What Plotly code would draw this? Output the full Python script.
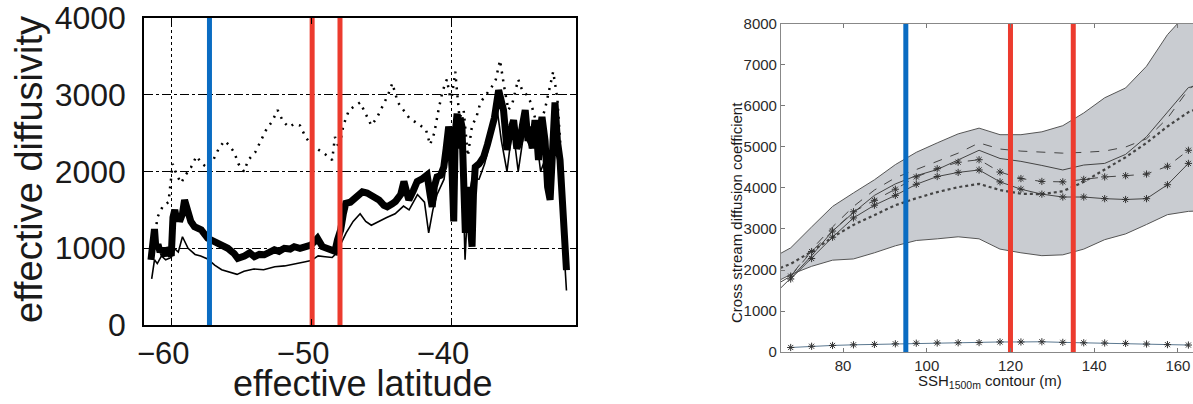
import plotly.graph_objects as go

# ---------------- Left panel data ----------------
thick_lat = [-61.45, -61.35, -61.2, -61.1, -60.95, -60.8, -60.7, -60.5, -60.36, -60.15, -60.0, -59.88,
             -59.75, -59.64, -59.5, -59.41, -59.2, -59.05, -58.9, -58.81, -58.6, -58.34, -57.86, -57.39,
             -56.91, -56.44, -55.96, -55.5, -55.25, -54.77, -54.4, -54.06, -53.7, -53.35, -53.0, -52.63,
             -52.3, -51.92, -51.5, -51.21, -50.8, -50.5, -50.02, -49.8, -49.55, -49.19, -48.9, -48.6,
             -48.3, -48.12, -47.89, -47.7, -47.53, -47.2, -46.93, -46.6, -46.34, -46.0, -45.75, -45.4,
             -45.15, -44.8, -44.56, -44.2, -43.97, -43.6, -43.37, -43.2, -43.02, -42.7, -42.42, -42.1,
             -41.71, -41.5, -41.35, -41.2, -41.0, -40.75, -40.52, -40.35, -40.17, -40.0, -39.9, -39.81,
             -39.7, -39.57, -39.45, -39.35, -39.22, -39.1, -38.98, -38.86, -38.74, -38.62, -38.5, -38.4,
             -38.27, -38.0, -37.67, -37.4, -37.2, -36.9, -36.6, -36.45, -36.25, -36.1, -36.01, -35.8,
             -35.53, -35.3, -35.06, -34.9, -34.7, -34.5, -34.35, -34.2, -34.0, -33.87, -33.75, -33.64,
             -33.5, -33.28, -33.1, -32.92, -32.8, -32.65, -32.57, -32.4, -32.21, -32.1, -31.97, -31.85, -31.75]
thick_val = [850, 1000, 1250, 1000, 1050, 950, 1000, 900, 1000, 950, 900, 1400,
             1500, 1400, 1450, 1350, 1450, 1630, 1550, 1450, 1350, 1280, 1240, 1130,
             1085, 1020, 1000, 930, 870, 900, 940, 890, 920, 915, 960, 980,
             960, 1000, 990, 1020, 1000, 1020, 1040, 1080, 1130, 1020, 1000, 980,
             960, 1110, 1240, 1450, 1585, 1600, 1650, 1700, 1735, 1720, 1690, 1650,
             1630, 1560, 1540, 1580, 1610, 1700, 1870, 1750, 1630, 1750, 1870, 1900,
             1955, 1700, 1540, 1800, 1930, 1950, 2060, 2300, 2585, 2400, 1800, 1350,
             2500, 2755, 2300, 2700, 2585, 1500, 1200, 1600, 1800, 1300, 1020, 1700,
             2060, 2100, 2190, 2350, 2500, 2700, 3060, 2900, 2800, 2500, 2280, 2500,
             2670, 2300, 2410, 2600, 2800, 2400, 2585, 2300, 2670, 2450, 2150, 2500,
             2710, 2400, 1800, 1630, 2300, 2800, 2900, 2400, 2150, 1800, 1195, 900, 715]

thin_lat = [-61.4, -61.3, -61.2, -61.0, -60.7, -60.4, -60.0, -59.8, -59.5, -59.2, -58.8, -58.3,
            -57.9, -57.4, -56.9, -56.4, -55.9, -55.3, -54.8, -54.1, -53.4, -52.6, -51.9, -51.2,
            -50.5, -50.0, -49.5, -49.0, -48.5, -48.1, -47.9, -47.5, -47.0, -46.5, -46.1, -45.7,
            -45.2, -44.6, -44.0, -43.4, -43.0, -42.4, -41.9, -41.6, -41.3, -41.0, -40.5, -40.2,
            -39.8, -39.6, -39.2, -39.0, -38.8, -38.5, -38.0, -37.6, -37.2, -36.7, -36.4, -36.0,
            -35.6, -35.2, -34.8, -34.3, -33.9, -33.6, -33.2, -32.9, -32.5, -32.2, -31.9, -31.75]
thin_val = [600, 750, 850, 800, 900, 850, 880, 1000, 950, 1150, 1000, 920,
            900, 860, 780, 720, 690, 660, 700, 730, 720, 760, 770, 800,
            820, 840, 900, 890, 880, 950, 1050, 1200, 1350, 1450, 1350, 1300,
            1350, 1400, 1450, 1550, 1500, 1700, 1600, 1200, 1500, 1700, 1900, 2300,
            1400, 2500, 2200, 850, 1600, 1900, 1900, 2100, 2400, 2800, 2400, 2000,
            2600, 2000, 2500, 2300, 2450, 2000, 2200, 1700, 2700, 1800, 1000, 450]

dot_lat = [-61.3, -61.0, -60.6, -60.2, -59.9, -59.6, -59.3, -59.0, -58.6, -58.2, -57.8, -57.4,
           -57.0, -56.6, -56.2, -55.9, -55.5, -55.2, -54.8, -54.5, -54.0, -53.6, -53.2, -52.8,
           -52.4, -52.0, -51.6, -51.2, -50.8, -50.4, -50.0, -49.6, -49.2, -48.8, -48.5, -48.3,
           -48.0, -47.7, -47.3, -46.9, -46.5, -46.1, -45.7, -45.3, -44.9, -44.5, -44.2, -43.8,
           -43.4, -43.0, -42.6, -42.2, -41.8, -41.5, -41.2, -40.9, -40.6, -40.3, -40.0, -39.7,
           -39.4, -39.1, -38.8, -38.5, -38.2, -37.9, -37.5, -37.1, -36.8, -36.5, -36.2, -35.9,
           -35.6, -35.2, -34.9, -34.6, -34.3, -34.0, -33.7, -33.3, -33.0, -32.7, -32.4, -32.1]
dot_val = [900, 1400, 1550, 1600, 2100, 1950, 1850, 1950, 2050, 2200, 2100, 2050,
           2150, 2300, 2400, 2350, 2250, 2100, 2000, 2150, 2250, 2400, 2550, 2650,
           2800, 2650, 2580, 2620, 2600, 2450, 2350, 2300, 2250, 2200, 2150, 2450,
           2300, 2600, 2800, 2850, 2900, 2750, 2600, 2700, 2850, 3000, 3150, 2900,
           2800, 2700, 2650, 2600, 2550, 2350, 2500, 2800, 3050, 3200, 2900, 3300,
           2700, 2800, 2200, 2600, 2700, 2900, 3000, 3100, 3200, 3450, 3100, 2800,
           2900, 3200, 3050, 3000, 2900, 2700, 2600, 2800, 3050, 3300, 2950, 2100]

left_blue = [-57.27]
left_red = [-49.93, -47.94]
left_xticks = [-60, -50, -40]
left_xticktext = ["\u221260", "\u221250", "\u221240"]
left_yticks = [0, 1000, 2000, 3000, 4000]

# ---------------- Right panel data ----------------
band_x = [65, 67.5, 72.5, 77.5, 82.5, 87.5, 92.5, 97.5, 102.5, 107.5, 112.5, 117.5,
          122.5, 127.5, 132.5, 137.5, 142.5, 147.5, 152.5, 157.5, 162.5, 165]
band_hi = [2400, 2540, 3050, 3550, 3880, 4200, 4570, 4870, 5100, 5320, 5460, 5300,
           5300, 5370, 5520, 5830, 6200, 6440, 6970, 7740, 8300, 8600]
band_lo = [1760, 1890, 2090, 2240, 2270, 2420, 2590, 2720, 2760, 2810, 2760, 2510,
           2420, 2350, 2370, 2510, 2740, 2880, 3110, 3350, 3430, 3440]
solid_plain = [1550, 1800, 2350, 2950, 3400, 3820, 4100, 4300, 4450, 4680, 4920, 4720,
               4650, 4550, 4440, 4560, 4600, 4820, 5250, 5850, 6450, 6500]
dash_plain = [1700, 1850, 2500, 3050, 3550, 3950, 4250, 4450, 4650, 4850, 5100, 4950,
              4900, 4880, 4850, 4870, 4900, 5000, 5200, 5700, 6400, 6600]
dot_plain = [2050, 2150, 2450, 2800, 3100, 3350, 3580, 3750, 3900, 4020, 4100, 3950,
             3860, 3850, 3920, 4150, 4450, 4750, 5100, 5500, 5850, 5950]

star_x = [67.5, 72.5, 77.5, 82.5, 87.5, 92.5, 97.5, 102.5, 107.5, 112.5, 117.5,
          122.5, 127.5, 132.5, 137.5, 142.5, 147.5, 152.5, 157.5, 162.5]
dash_star = [1850, 2450, 2950, 3420, 3700, 3970, 4270, 4470, 4630, 4690, 4390,
             4230, 4160, 4150, 4210, 4270, 4300, 4340, 4530, 4920]
solid_star = [1780, 2280, 2800, 3270, 3580, 3820, 4090, 4280, 4380, 4440, 4150,
              3970, 3850, 3780, 3780, 3740, 3720, 3740, 4080, 4600]
low_star = [110, 140, 160, 175, 185, 200, 215, 220, 225, 230, 245,
            245, 250, 235, 225, 220, 210, 195, 180, 170]

right_blue = [95]
right_red = [120, 135]
right_xticks = [80, 100, 120, 140, 160]
right_yticks = [0, 1000, 2000, 3000, 4000, 5000, 6000, 7000, 8000]

BLUE = "#0a6cc2"
RED = "#ec3b2e"
FONT = "Arial, Liberation Sans, sans-serif"
STAR = dict(symbol="asterisk-open", size=6, color="#333", line=dict(color="#333", width=1))

fig = go.Figure()

# ---- left traces ----
fig.add_trace(go.Scatter(x=dot_lat, y=dot_val, mode="lines",
                         line=dict(color="black", width=2.5, dash="2px,6px"), xaxis="x", yaxis="y"))
fig.add_trace(go.Scatter(x=thin_lat, y=thin_val, mode="lines",
                         line=dict(color="black", width=1.6), xaxis="x", yaxis="y"))
fig.add_trace(go.Scatter(x=thick_lat, y=thick_val, mode="lines",
                         line=dict(color="black", width=7), xaxis="x", yaxis="y"))
for v in left_blue:
    fig.add_trace(go.Scatter(x=[v, v], y=[0, 4000], mode="lines",
                             line=dict(color=BLUE, width=5), xaxis="x", yaxis="y"))
for v in left_red:
    fig.add_trace(go.Scatter(x=[v, v], y=[0, 4000], mode="lines",
                             line=dict(color=RED, width=5), xaxis="x", yaxis="y"))

# ---- right traces ----
fig.add_trace(go.Scatter(x=band_x, y=band_lo, mode="lines",
                         line=dict(color="#555", width=1), xaxis="x2", yaxis="y2"))
fig.add_trace(go.Scatter(x=band_x, y=band_hi, mode="lines", fill="tonexty",
                         fillcolor="#c9ccd1", line=dict(color="#555", width=1),
                         xaxis="x2", yaxis="y2"))
fig.add_trace(go.Scatter(x=band_x, y=dot_plain, mode="lines",
                         line=dict(color="#444", width=2.2, dash="dot"), xaxis="x2", yaxis="y2"))
fig.add_trace(go.Scatter(x=band_x, y=dash_plain, mode="lines",
                         line=dict(color="#444", width=1, dash="dash"), xaxis="x2", yaxis="y2"))
fig.add_trace(go.Scatter(x=band_x, y=solid_plain, mode="lines",
                         line=dict(color="#444", width=1), xaxis="x2", yaxis="y2"))
fig.add_trace(go.Scatter(x=star_x, y=dash_star, mode="lines+markers",
                         line=dict(color="#444", width=1, dash="dash"), marker=STAR,
                         xaxis="x2", yaxis="y2"))
fig.add_trace(go.Scatter(x=star_x, y=solid_star, mode="lines+markers",
                         line=dict(color="#444", width=1), marker=STAR,
                         xaxis="x2", yaxis="y2"))
fig.add_trace(go.Scatter(x=star_x, y=low_star, mode="lines+markers",
                         line=dict(color="#5b7890", width=1), marker=STAR,
                         xaxis="x2", yaxis="y2"))
for v in right_blue:
    fig.add_trace(go.Scatter(x=[v, v], y=[0, 8000], mode="lines",
                             line=dict(color=BLUE, width=5), xaxis="x2", yaxis="y2"))
for v in right_red:
    fig.add_trace(go.Scatter(x=[v, v], y=[0, 8000], mode="lines",
                             line=dict(color=RED, width=5), xaxis="x2", yaxis="y2"))

fig.update_layout(
    width=1193, height=404,
    margin=dict(l=0, r=0, t=0, b=0, autoexpand=False),
    paper_bgcolor="white", plot_bgcolor="white",
    showlegend=False,
    font=dict(family=FONT, color="#1a1a1a"),
    xaxis=dict(domain=[0.1207, 0.4828], range=[-61.95, -31.07], anchor="y", automargin=False,
               tickvals=left_xticks, ticktext=left_xticktext, ticklabeloverflow="allow",
               ticklabelshift=-8,
               ticks="inside", ticklen=6, tickcolor="black",
               showline=True, linecolor="black", linewidth=1.5, mirror="ticks",
               showgrid=True, gridcolor="black", griddash="dot", gridwidth=1.2,
               zeroline=False, tickfont=dict(size=31, family=FONT, color="#1a1a1a")),
    yaxis=dict(domain=[0.1955, 0.9554], range=[0, 4000], anchor="x", automargin=False,
               tickvals=left_yticks, ticklabeloverflow="allow", ticklabelstandoff=10,
               ticks="inside", ticklen=6, tickcolor="black",
               showline=True, linecolor="black", linewidth=1.5, mirror="ticks",
               showgrid=True, gridcolor="black", griddash="dashdot", gridwidth=1.2,
               zeroline=False, tickfont=dict(size=32, family=FONT, color="#1a1a1a")),
    xaxis2=dict(domain=[0.6547, 1.0], range=[65.2, 163.6], anchor="y2", automargin=False,
                tickvals=right_xticks, ticks="inside", ticklen=4, tickcolor="#777",
                ticklabeloverflow="allow",
                showline=True, linecolor="#888", linewidth=1.2, mirror="ticks",
                showgrid=False, zeroline=False,
                tickfont=dict(size=15, family=FONT, color="#2a2a2a")),
    yaxis2=dict(domain=[0.1287, 0.9406], range=[0, 8000], anchor="x2", automargin=False,
                tickvals=right_yticks, ticks="inside", ticklen=4, tickcolor="#777",
                ticklabeloverflow="allow",
                showline=True, linecolor="#888", linewidth=1.2,
                showgrid=False, zeroline=False,
                tickfont=dict(size=15, family=FONT, color="#2a2a2a")),
    annotations=[
        dict(text="effective diffusivity", xref="paper", yref="paper",
             x=29 / 1193, y=(404 - 170) / 404, textangle=-90, showarrow=False,
             font=dict(size=38, family=FONT, color="#1a1a1a"), xanchor="center", yanchor="middle"),
        dict(text="effective latitude", xref="paper", yref="paper",
             x=363 / 1193, y=(404 - 383) / 404, showarrow=False,
             font=dict(size=36, family=FONT, color="#1a1a1a"), xanchor="center", yanchor="middle"),
        dict(text="Cross stream diffusion coefficient", xref="paper", yref="paper",
             x=736 / 1193, y=(404 - 213) / 404, textangle=-90, showarrow=False,
             font=dict(size=15, family=FONT, color="#1a1a1a"), xanchor="center", yanchor="middle"),
        dict(text="SSH<sub>1500m</sub> contour (m)", xref="paper", yref="paper",
             x=990 / 1193, y=(404 - 381) / 404, showarrow=False,
             font=dict(size=15, family=FONT, color="#1a1a1a"), xanchor="center", yanchor="middle"),
    ],
)

fig.write_html("out.html")
